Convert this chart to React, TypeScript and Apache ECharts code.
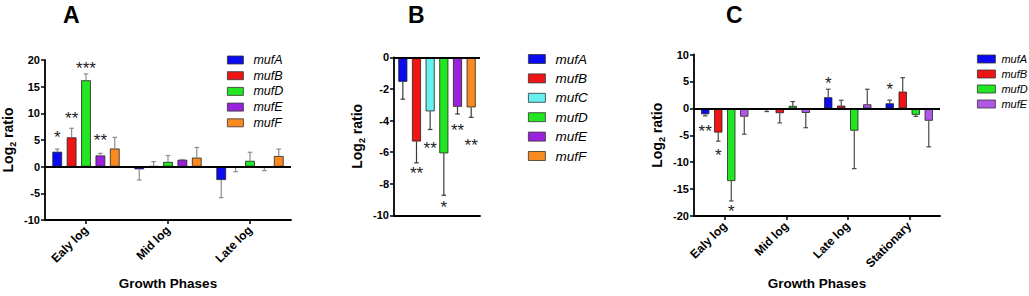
import React, { useEffect, useRef } from 'react';
import * as echarts from 'echarts';

const FONT = '"Liberation Sans", Arial, Helvetica, sans-serif';

// ---------- Panel A ----------
const phasesA = ['Ealy log', 'Mid log', 'Late log'];
const genesA = ['mufA', 'mufB', 'mufD', 'mufE', 'mufF'];
const valuesA = [
  [2.8, -0.5, -2.5],
  [5.5, 0.1, -0.1],
  [16.2, 0.9, 1.1],
  [2.1, 1.3, -0.1],
  [3.4, 1.7, 2.0],
];
const sdA = [
  [0.5, 2.0, 3.3],
  [1.7, 0.85, 0.85],
  [1.2, 1.2, 1.6],
  [0.4, 0.05, 0.65],
  [2.1, 1.9, 1.3],
];
// [phaseIndex, geneIndex, y, label]
const starsA: [number, number, number, string][] = [
  [0, 0, 6.1, '*'],
  [0, 1, 9.6, '**'],
  [0, 2, 19.0, '***'],
  [0, 3, 5.5, '**'],
];
const yTicksA = { min: -10, max: 20, interval: 5 };

// ---------- Panel B ----------
const phasesB = ['all'];
const genesB = ['mufA', 'mufB', 'mufC', 'mufD', 'mufE', 'mufF'];
const valuesB = [[-1.55], [-5.33], [-3.42], [-6.08], [-3.13], [-3.17]];
const sdB = [[1.1], [1.35], [1.15], [2.65], [0.46], [0.63]];
const starsB: [number, number, number, string][] = [
  [0, 1, -7.15, '**'],
  [0, 2, -5.58, '**'],
  [0, 3, -9.26, '*'],
  [0, 4, -4.44, '**'],
  [0, 5, -5.39, '**'],
];
const yTicksB = { min: -10, max: 0, interval: 2 };

// ---------- Panel C ----------
const phasesC = ['Ealy log', 'Mid log', 'Late log', 'Stationary'];
const genesC = ['mufA', 'mufB', 'mufD', 'mufE'];
const valuesC = [
  [-1.1, -0.1, 2.05, 0.93],
  [-4.5, -0.9, 0.5, 3.1],
  [-13.5, 0.45, -4.15, -1.2],
  [-1.55, -0.85, 0.75, -2.3],
];
const sdC = [
  [0.3, 0.5, 1.5, 0.6],
  [1.6, 1.8, 1.0, 2.6],
  [3.7, 0.8, 7.05, 0.3],
  [3.25, 2.75, 2.8, 4.85],
];
const starsC: [number, number, number, string][] = [
  [0, 0, -3.7, '**'],
  [0, 1, -8.06, '*'],
  [0, 2, -18.45, '*'],
  [2, 0, 5.25, '*'],
  [3, 0, 4.2, '*'],
];
const yTicksC = { min: -20, max: 10, interval: 5 };

const geneColors: Record<string, string> = {
  mufA: '#0b0bf2',
  mufB: '#f01515',
  mufC: '#66f0f0',
  mufD: '#22e622',
  mufE: '#9b22dd',
  mufF: '#f98a20',
};
const geneColorsC: Record<string, string> = { ...geneColors, mufE: '#b058e6' };

type Panel = {
  key: string;
  phases: string[];
  genes: string[];
  values: number[][];
  sds: number[][];
  stars: [number, number, number, string][];
  ticks: { min: number; max: number; interval: number };
  grid: { left: number; top: number; width: number; height: number };
  cg: number;
  g: number;
  errColor: string;
  colors: Record<string, string>;
  legend: { left: number; top: number; itemWidth: number; itemHeight: number; gap: number; fontSize: number; textPad: number };
  showXLabels: boolean;
  xName: string;
  xNameGap: number;
  title: string;
  titleLeft: number;
};

const panels: Panel[] = [
  {
    key: 'A', phases: phasesA, genes: genesA, values: valuesA, sds: sdA, stars: starsA, ticks: yTicksA,
    grid: { left: 44, top: 60, width: 247, height: 160 }, cg: 0.18, g: 0.48, errColor: '#8d8d8d',
    colors: geneColors,
    legend: { left: 227, top: 53, itemWidth: 16, itemHeight: 8, gap: 1.7, fontSize: 12.5, textPad: 5 },
    showXLabels: true, xName: 'Growth Phases', xNameGap: 56, title: 'A', titleLeft: 63,
  },
  {
    key: 'B', phases: phasesB, genes: genesB, values: valuesB, sds: sdB, stars: starsB, ticks: yTicksB,
    grid: { left: 394, top: 57.3, width: 86, height: 158 }, cg: 0.1, g: 0.51, errColor: '#3a3a3a',
    colors: geneColors,
    legend: { left: 528, top: 52, itemWidth: 17, itemHeight: 9, gap: 5.4, fontSize: 13.5, textPad: 5 },
    showXLabels: false, xName: '', xNameGap: 0, title: 'B', titleLeft: 408,
  },
  {
    key: 'C', phases: phasesC, genes: genesC, values: valuesC, sds: sdC, stars: starsC, ticks: yTicksC,
    grid: { left: 694, top: 54.5, width: 246, height: 161.5 }, cg: 0.23, g: 0.57, errColor: '#4a4a4a',
    colors: geneColorsC,
    legend: { left: 977, top: 52, itemWidth: 18, itemHeight: 8, gap: 1, fontSize: 11, textPad: 1 },
    showXLabels: true, xName: 'Growth Phases', xNameGap: 57, title: 'C', titleLeft: 726,
  },
];

function barX(api: any, ci: number, gi: number, n: number, cg: number, g: number) {
  const band = api.size([1, 0])[0];
  const w = (band * (1 - cg)) / (n + (n - 1) * g);
  const total = n * w + (n - 1) * w * g;
  const cx = api.coord([ci, 0])[0];
  return cx - total / 2 + gi * w * (1 + g) + w / 2;
}

function buildOption() {
  const grids: any[] = [];
  const xAxes: any[] = [];
  const yAxes: any[] = [];
  const series: any[] = [];
  const legends: any[] = [];
  const titles: any[] = [];

  panels.forEach((p, i) => {
    grids.push({ ...p.grid, containLabel: false });
    xAxes.push({
      gridIndex: i,
      type: 'category',
      data: p.phases,
      position: 'bottom',
      axisLine: { show: true, onZero: false, lineStyle: { color: '#000', width: 1.8 } },
      axisTick: { show: p.showXLabels, alignWithLabel: true, length: 4, lineStyle: { color: '#000', width: 1.5 } },
      axisLabel: {
        show: p.showXLabels, rotate: 45, interval: 0, margin: 8,
        fontSize: 12, fontWeight: 'bold', color: '#000', fontFamily: FONT,
      },
      splitLine: { show: false },
      name: p.xName,
      nameLocation: 'middle',
      nameGap: p.xNameGap,
      nameTextStyle: { fontSize: 13.5, fontWeight: 'bold', color: '#000', fontFamily: FONT },
    });
    yAxes.push({
      gridIndex: i,
      type: 'value',
      min: p.ticks.min,
      max: p.ticks.max,
      interval: p.ticks.interval,
      axisLine: { show: true, lineStyle: { color: '#000', width: 1.8 } },
      axisTick: { show: true, length: 4, lineStyle: { color: '#000', width: 1.5 } },
      axisLabel: { fontSize: 11, fontWeight: 'bold', color: '#000', margin: 5, fontFamily: FONT },
      splitLine: { show: false },
      name: '{a|Log}{s|2}{a| ratio}',
      nameLocation: 'middle',
      nameGap: 28,
      nameTextStyle: {
        rich: {
          a: { fontSize: 14, fontWeight: 'bold', color: '#000', fontFamily: FONT, lineHeight: 18 },
          s: { fontSize: 9, fontWeight: 'bold', color: '#000', fontFamily: FONT, lineHeight: 18, verticalAlign: 'bottom' },
        },
      },
    });

    const n = p.genes.length;
    p.genes.forEach((gn, gi) => {
      series.push({
        type: 'bar',
        id: `${p.key}-${gn}`,
        name: gn,
        xAxisIndex: i,
        yAxisIndex: i,
        data: p.values[gi],
        barCategoryGap: `${p.cg * 100}%`,
        barGap: `${p.g * 100}%`,
        itemStyle: { color: p.colors[gn], borderColor: '#222', borderWidth: 0.8 },
        emphasis: { disabled: true },
        z: 2,
        markLine: gi === 0 ? {
          silent: true,
          symbol: ['none', 'none'],
          label: { show: false },
          lineStyle: { type: 'solid', color: '#000', width: 1.8 },
          data: [{ yAxis: 0 }],
          z: 5,
        } : undefined,
      });
    });

    const errData: number[][] = [];
    p.genes.forEach((_, gi) => {
      p.phases.forEach((__, ci) => {
        errData.push([ci, gi, p.values[gi][ci], p.sds[gi][ci]]);
      });
    });
    series.push({
      type: 'custom',
      id: `${p.key}-err`,
      xAxisIndex: i,
      yAxisIndex: i,
      data: errData,
      encode: { x: 0, y: 2 },
      z: 3,
      silent: true,
      renderItem: (params: any, api: any) => {
        const ci = api.value(0);
        const gi = api.value(1);
        const v = api.value(2);
        const sd = api.value(3);
        const x = barX(api, ci, gi, n, p.cg, p.g);
        const dir = v >= 0 ? 1 : -1;
        const y0 = api.coord([ci, v])[1];
        const y1 = api.coord([ci, v + dir * sd])[1];
        const st = { stroke: p.errColor, lineWidth: 1.2 };
        return {
          type: 'group',
          children: [
            { type: 'line', shape: { x1: x, y1: y0, x2: x, y2: y1 }, style: st },
            { type: 'line', shape: { x1: x - 2.3, y1: y1, x2: x + 2.3, y2: y1 }, style: st },
          ],
        };
      },
    });

    const stars = p.stars;
    series.push({
      type: 'custom',
      id: `${p.key}-stars`,
      xAxisIndex: i,
      yAxisIndex: i,
      data: stars.map((s) => [s[0], s[1], s[2]]),
      encode: { x: 0, y: 2 },
      z: 6,
      silent: true,
      renderItem: (params: any, api: any) => {
        const s = stars[params.dataIndex];
        const x = barX(api, s[0], s[1], n, p.cg, p.g);
        const y = api.coord([s[0], s[2]])[1];
        return {
          type: 'text',
          x,
          y: y + 3.5,
          style: {
            text: s[3],
            fontSize: 17,
            fontFamily: FONT,
            fill: '#222',
            align: 'center',
            verticalAlign: 'middle',
          },
        };
      },
    });

    legends.push({
      orient: 'vertical',
      left: p.legend.left,
      top: p.legend.top,
      padding: 0,
      itemWidth: p.legend.itemWidth,
      itemHeight: p.legend.itemHeight,
      itemGap: p.legend.gap,
      icon: 'rect',
      selectedMode: false,
      textStyle: {
        fontSize: p.legend.fontSize,
        fontStyle: 'italic',
        color: '#000',
        fontFamily: FONT,
        lineHeight: 14,
        padding: [0, 0, 0, p.legend.textPad],
      },
      data: p.genes.map((gn) => ({
        name: gn,
        itemStyle: { color: p.colors[gn], borderColor: '#333', borderWidth: 0.8 },
      })),
    });

    titles.push({
      text: p.title,
      left: p.titleLeft,
      top: 3,
      padding: 0,
      textStyle: { fontSize: 23, fontWeight: 'bold', color: '#000', fontFamily: FONT },
    });
  });

  return {
    animation: false,
    backgroundColor: '#fff',
    title: titles,
    grid: grids,
    xAxis: xAxes,
    yAxis: yAxes,
    legend: legends,
    series,
  };
}

export default function App() {
  const ref = useRef<HTMLDivElement>(null);
  useEffect(() => {
    if (!ref.current) return;
    const chart = echarts.init(ref.current, undefined, { renderer: 'svg' });
    chart.setOption(buildOption() as any);
    return () => chart.dispose();
  }, []);
  return (
    <div
      ref={ref}
      style={{ position: 'absolute', left: 0, top: 0, width: 1029, height: 296, background: '#fff' }}
    />
  );
}
